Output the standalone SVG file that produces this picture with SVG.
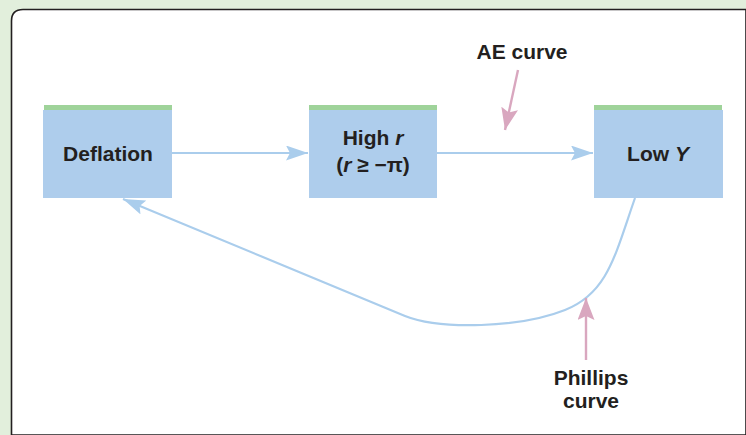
<svg xmlns="http://www.w3.org/2000/svg" width="746" height="435" viewBox="0 0 746 435">
<style>
.box{fill:#aecdec}
.strip{fill:#9fd39a}
.t{font-family:"Liberation Sans",Arial,sans-serif;font-weight:bold;font-size:21px;fill:#231f20;text-anchor:middle}
.it{font-style:italic}
.blue{fill:none;stroke:#aacdec;stroke-width:2.2}
.pink{fill:none;stroke:#d9a7bf;stroke-width:2.4}
</style>
<defs>
<marker id="ab" markerUnits="userSpaceOnUse" markerWidth="24" markerHeight="16" refX="22" refY="7.5" orient="auto">
<path d="M0,0 L22,7.5 L0,15 L4,7.5 Z" fill="#aacdec"/>
</marker>
<marker id="ap" markerUnits="userSpaceOnUse" markerWidth="24" markerHeight="18" refX="22" refY="8.5" orient="auto">
<path d="M0,0 L22,8.5 L0,17 L4,8.5 Z" fill="#d9a7bf"/>
</marker>
</defs>
<rect x="0" y="0" width="746" height="435" fill="#e2efdc"/>
<path d="M11.5,435 L11.5,21 Q11.5,9.5 23,9.5 L746,9.5 L746,435 Z" fill="#ffffff" stroke="#231f20" stroke-width="1.6"/>
<g id="connectors">
<line class="blue" x1="172" y1="153" x2="308" y2="153" marker-end="url(#ab)"/>
<line class="blue" x1="437" y1="153" x2="593" y2="153" marker-end="url(#ab)"/>
<path class="blue" d="M635,198 C615,255 608,293 565,310 C520,328 440,330 405,316 L123,199" marker-end="url(#ab)"/>
<line class="pink" x1="518" y1="70" x2="505" y2="130" marker-end="url(#ap)"/>
<line class="pink" x1="586" y1="360" x2="586" y2="298" marker-end="url(#ap)"/>
</g>
<g id="deflation">
<rect class="box" x="43" y="110" width="129" height="88"/>
<rect class="strip" x="44" y="105" width="128" height="5"/>
<text class="t" x="108" y="161">Deflation</text>
</g>
<g id="high-r">
<rect class="box" x="309" y="110" width="128" height="88"/>
<rect class="strip" x="309" y="105" width="128" height="5"/>
<text class="t" x="373" y="145">High <tspan class="it">r</tspan></text>
<text class="t" x="373" y="172">(<tspan class="it">r</tspan> ≥ −π)</text>
</g>
<g id="low-y">
<rect class="box" x="594" y="110" width="129" height="88"/>
<rect class="strip" x="594" y="105" width="128" height="5"/>
<text class="t" x="658" y="161">Low <tspan class="it">Y</tspan></text>
</g>
<g id="ae-label">
<text class="t" x="522" y="59">AE curve</text>
</g>
<g id="phillips-label">
<text class="t" x="591" y="385">Phillips</text>
<text class="t" x="591" y="408">curve</text>
</g>
</svg>
